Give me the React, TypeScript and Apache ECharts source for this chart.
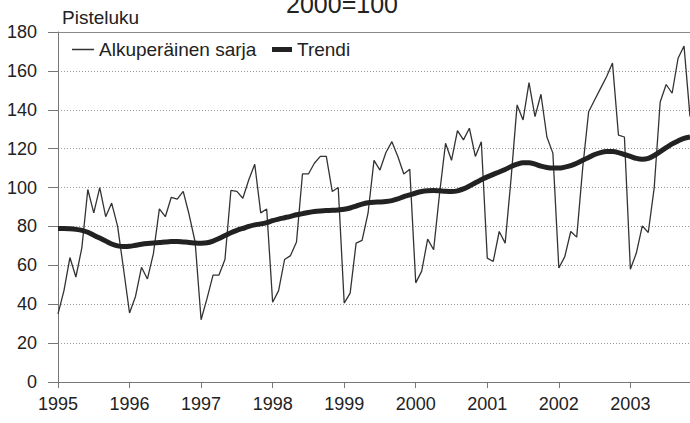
import React, { useEffect, useRef } from "react";
import * as echarts from "echarts";

const years = ["1995", "1996", "1997", "1998", "1999", "2000", "2001", "2002", "2003"];
const monthsLastYear = 11;

const original1995 = [35, 47, 64, 54, 69, 99, 87, 100, 85, 92, 80, 58];
const original1996 = [35.5, 44, 59, 53, 66, 89, 85, 95, 94, 98, 86, 72];
const original1997 = [32, 43, 55, 55, 63, 98.5, 98, 94.5, 104, 112, 87, 89];
const original1998 = [41, 47, 63, 65, 72, 107, 107, 112.5, 116, 116, 98, 100];
const original1999 = [40.6, 45.7, 71.4, 72.8, 86.8, 114, 109, 118, 123.6, 116, 107, 109.4];
const original2000 = [51, 57, 73.5, 68, 97, 122.8, 114, 129.3, 124.5, 130.5, 116, 123.6];
const original2001 = [63.7, 62, 77.4, 71.4, 105, 142.5, 134.8, 154, 136.5, 148, 126, 117.7];
const original2002 = [58.6, 64.5, 77.4, 74.5, 110, 139, 145, 151, 157, 164, 127, 126];
const original2003 = [58, 66.3, 80.3, 76.9, 100, 144, 153, 148.5, 166.5, 172.8, 136.5];

const trend1995 = [79, 79, 78.8, 78.5, 78, 77, 75.5, 74, 72.5, 71, 70, 69.7];
const trend1996 = [69.8, 70.3, 70.8, 71.2, 71.5, 71.7, 72, 72.2, 72.2, 72, 71.8, 71.5];
const trend1997 = [71.4, 71.6, 72.5, 73.8, 75.3, 76.8, 78, 79, 80, 80.8, 81.3, 82];
const trend1998 = [83, 83.8, 84.5, 85.2, 86, 86.6, 87.2, 87.7, 88, 88.2, 88.3, 88.5];
const trend1999 = [88.8, 89.5, 90.5, 91.5, 92.2, 92.5, 92.6, 92.8, 93.3, 94.2, 95.3, 96.2];
const trend2000 = [97.2, 98, 98.4, 98.5, 98.3, 98.1, 98, 98.3, 99.3, 100.8, 102.5, 104];
const trend2001 = [105.5, 106.8, 108, 109.3, 110.8, 112, 112.8, 112.8, 112, 111, 110.3, 110];
const trend2002 = [110, 110.5, 111.3, 112.5, 114, 115.5, 117, 118, 118.5, 118.5, 118, 117];
const trend2003 = [116, 115, 114.6, 115, 116.5, 118.5, 120.5, 122.5, 124, 125.3, 126];

const original = [
  ...original1995, ...original1996, ...original1997, ...original1998, ...original1999,
  ...original2000, ...original2001, ...original2002, ...original2003,
];
const trend = [
  ...trend1995, ...trend1996, ...trend1997, ...trend1998, ...trend1999,
  ...trend2000, ...trend2001, ...trend2002, ...trend2003,
];

const categories: string[] = [];
years.forEach((y, i) => {
  const n = i === years.length - 1 ? monthsLastYear : 12;
  for (let m = 1; m <= n; m++) categories.push(y + "-" + (m < 10 ? "0" + m : "" + m));
});

const FONT = "'Liberation Sans', Arial, Helvetica, sans-serif";
const TXT = "#222";
const SERIES_ORIG = "Alkuperäinen sarja";
const SERIES_TREND = "Trendi";

export default function App() {
  const ref = useRef<HTMLDivElement>(null);
  useEffect(() => {
    if (!ref.current) return;
    const chart = echarts.init(ref.current, null, { renderer: "svg" });
    const isJan = (idx: number) => idx % 12 === 0;
    const legendText = { fontSize: 19, fontFamily: FONT, color: TXT };
    chart.setOption({
      animation: false,
      backgroundColor: "#fff",
      textStyle: { fontFamily: FONT },
      grid: { left: 58, right: 0, top: 32, bottom: 41, containLabel: false },
      graphic: [
        {
          type: "text",
          style: { text: "2000=100", x: 342, y: 4, align: "center", verticalAlign: "middle", fontSize: 25, fontFamily: FONT, fill: TXT },
        },
        {
          type: "text",
          style: { text: "Pisteluku", x: 62, y: 17, align: "left", verticalAlign: "middle", fontSize: 19, fontFamily: FONT, fill: TXT },
        },
      ],
      legend: [
        {
          left: 67,
          top: 35,
          itemWidth: 22,
          itemHeight: 1.5,
          icon: "rect",
          textStyle: legendText,
          data: [{ name: SERIES_ORIG, itemStyle: { color: "#333" } }],
        },
        {
          left: 267,
          top: 35,
          itemWidth: 20,
          itemHeight: 5,
          icon: "rect",
          textStyle: legendText,
          data: [{ name: SERIES_TREND, itemStyle: { color: "#222" } }],
        },
      ],
      xAxis: [
        {
          type: "category",
          data: categories,
          boundaryGap: false,
          axisLine: { show: true, lineStyle: { color: "#777", width: 1 } },
          axisTick: { show: true, interval: (i: number) => isJan(i), length: 6, lineStyle: { color: "#777" } },
          axisLabel: {
            interval: (i: number) => isJan(i),
            formatter: (v: string) => v.slice(0, 4),
            fontSize: 18,
            color: TXT,
            margin: 13,
            fontFamily: FONT,
          },
          splitLine: { show: false },
        },
        {
          type: "category",
          data: categories,
          position: "top",
          boundaryGap: false,
          axisLine: { show: true, lineStyle: { color: "#888", width: 1 } },
          axisTick: { show: false },
          axisLabel: { show: false },
          splitLine: { show: false },
        },
      ],
      yAxis: {
        type: "value",
        min: 0,
        max: 180,
        interval: 20,
        axisLine: { show: true, lineStyle: { color: "#777", width: 1 } },
        axisTick: { show: true, length: 10, lineStyle: { color: "#777" } },
        axisLabel: { fontSize: 18, color: TXT, margin: 21, fontFamily: FONT },
        splitLine: { show: true, lineStyle: { color: "#999", type: [1, 2], width: 1 } },
      },
      series: [
        {
          name: SERIES_ORIG,
          type: "line",
          data: original,
          symbol: "none",
          lineStyle: { width: 1.3, color: "#333" },
          itemStyle: { color: "#333" },
          z: 3,
        },
        {
          name: SERIES_TREND,
          type: "line",
          data: trend,
          symbol: "none",
          smooth: 0.3,
          lineStyle: { width: 5, color: "#222" },
          itemStyle: { color: "#222" },
          z: 4,
        },
      ],
    });
    return () => chart.dispose();
  }, []);
  return (
    <div
      ref={ref}
      style={{ position: "fixed", left: 0, top: 0, width: 690, height: 423, background: "#fff" }}
    />
  );
}
